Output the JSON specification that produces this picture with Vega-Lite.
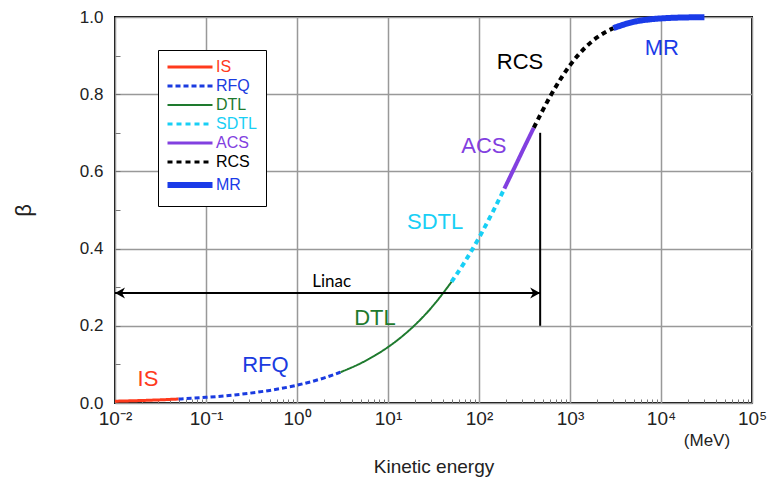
{
  "$schema": "https://vega.github.io/schema/vega-lite/v6.json",
  "width": 637,
  "height": 386,
  "autosize": "none",
  "padding": {"left": 115, "top": 17, "right": 17, "bottom": 81},
  "background": "white",
  "config": {
    "view": {"stroke": "black", "strokeWidth": 2},
    "font": "Liberation Sans"
  },
  "datasets": {
    "curve": [
      {"seg": "IS", "T": 0.01, "beta": 0.004617},
      {"seg": "IS", "T": 0.02, "beta": 0.006529},
      {"seg": "IS", "T": 0.03, "beta": 0.007997},
      {"seg": "IS", "T": 0.05, "beta": 0.010324},
      {"seg": "RFQ", "T": 0.05, "beta": 0.010324},
      {"seg": "RFQ", "T": 0.1, "beta": 0.0146},
      {"seg": "RFQ", "T": 0.2, "beta": 0.02065},
      {"seg": "RFQ", "T": 0.3, "beta": 0.02529},
      {"seg": "RFQ", "T": 0.5, "beta": 0.03263},
      {"seg": "RFQ", "T": 1, "beta": 0.04613},
      {"seg": "RFQ", "T": 2, "beta": 0.06519},
      {"seg": "RFQ", "T": 3, "beta": 0.07978},
      {"seg": "DTL", "T": 3, "beta": 0.07978},
      {"seg": "DTL", "T": 5, "beta": 0.10283},
      {"seg": "DTL", "T": 7, "beta": 0.12147},
      {"seg": "DTL", "T": 10, "beta": 0.14485},
      {"seg": "DTL", "T": 15, "beta": 0.1767},
      {"seg": "DTL", "T": 20, "beta": 0.20324},
      {"seg": "DTL", "T": 30, "beta": 0.247},
      {"seg": "DTL", "T": 50, "beta": 0.31405},
      {"seg": "SDTL", "T": 50, "beta": 0.31405},
      {"seg": "SDTL", "T": 70, "beta": 0.3661},
      {"seg": "SDTL", "T": 100, "beta": 0.4282},
      {"seg": "SDTL", "T": 140, "beta": 0.49277},
      {"seg": "SDTL", "T": 190, "beta": 0.55538},
      {"seg": "ACS", "T": 190, "beta": 0.55538},
      {"seg": "ACS", "T": 250, "beta": 0.61361},
      {"seg": "ACS", "T": 320, "beta": 0.6663},
      {"seg": "ACS", "T": 400, "beta": 0.71306},
      {"seg": "RCS", "T": 400, "beta": 0.71306},
      {"seg": "RCS", "T": 600, "beta": 0.79244},
      {"seg": "RCS", "T": 800, "beta": 0.84181},
      {"seg": "RCS", "T": 1000, "beta": 0.87502},
      {"seg": "RCS", "T": 1500, "beta": 0.923},
      {"seg": "RCS", "T": 2000, "beta": 0.94765},
      {"seg": "RCS", "T": 2500, "beta": 0.96204},
      {"seg": "RCS", "T": 3000, "beta": 0.97121},
      {"seg": "MR", "T": 3000, "beta": 0.97121},
      {"seg": "MR", "T": 5000, "beta": 0.98744},
      {"seg": "MR", "T": 8000, "beta": 0.99448},
      {"seg": "MR", "T": 12000, "beta": 0.99737},
      {"seg": "MR", "T": 20000, "beta": 0.999},
      {"seg": "MR", "T": 30000, "beta": 0.99954}
    ],
    "labels": [
      {"seg": "IS", "T": 0.023, "beta": 0.062},
      {"seg": "RFQ", "T": 0.45, "beta": 0.098},
      {"seg": "DTL", "T": 7.2, "beta": 0.22},
      {"seg": "SDTL", "T": 33, "beta": 0.469},
      {"seg": "ACS", "T": 113, "beta": 0.666},
      {"seg": "RCS", "T": 282, "beta": 0.883},
      {"seg": "MR", "T": 10200, "beta": 0.92}
    ]
  },
  "layer": [
    {
      "data": {"name": "curve"},
      "mark": {"type": "line", "interpolate": "monotone", "strokeCap": "butt"},
      "encoding": {
        "x": {
          "field": "T", "type": "quantitative",
          "scale": {"type": "log", "domain": [0.01, 100000], "nice": false},
          "axis": {
            "orient": "bottom",
            "values": [0.01, 0.1, 1, 10, 100, 1000, 10000, 100000],
            "labelExpr": "datum.value < 0.05 ? '10⁻²' : datum.value < 0.5 ? '10⁻¹' : datum.value < 5 ? '10⁰' : datum.value < 50 ? '10¹' : datum.value < 500 ? '10²' : datum.value < 5000 ? '10³' : datum.value < 50000 ? '10⁴' : '10⁵'",
            "labelFontSize": 19, "labelColor": "#222", "labelPadding": 6,
            "labelOverlap": false, "labelBound": false, "labelFlush": false,
            "ticks": false, "domain": false,
            "grid": true, "gridColor": "#999", "gridWidth": 1.5,
            "title": "Kinetic energy", "titleFontSize": 19, "titleFontWeight": "normal",
            "titleColor": "#222", "titlePadding": 29
          }
        },
        "y": {
          "field": "beta", "type": "quantitative",
          "scale": {"domain": [0, 1], "nice": false},
          "axis": {
            "orient": "left",
            "values": [0, 0.2, 0.4, 0.6, 0.8, 1.0],
            "format": ".1f",
            "labelFontSize": 17, "labelColor": "#222", "labelPadding": 12,
            "ticks": false, "domain": false,
            "grid": true, "gridColor": "#999", "gridWidth": 1.5,
            "title": "β", "titleFontSize": 22, "titleFontWeight": "normal",
            "titleColor": "#222", "titlePadding": 44
          }
        },
        "order": {"field": "T", "type": "quantitative"},
        "color": {
          "field": "seg", "type": "nominal",
          "scale": {
            "domain": ["IS", "RFQ", "DTL", "SDTL", "ACS", "RCS", "MR"],
            "range": ["#ff3a1c", "#1a3be0", "#1e7a2e", "#18cff5", "#8240e0", "#000000", "#1a3be8"]
          },
          "legend": {
            "title": null, "orient": "none", "legendX": 43, "legendY": 33,
            "symbolType": "M-1,0H5", "symbolSize": 225,
            "strokeColor": "black", "fillColor": "white", "padding": 9,
            "labelFont": "Liberation Sans", "labelFontSize": 16, "rowPadding": 3, "labelOffset": 33,
            "encode": {
              "labels": {"update": {"fill": {"scale": "color", "field": "value"}}},
              "symbols": {"update": {"strokeWidth": {"signal": "datum.value === 'MR' ? 6 : datum.value === 'DTL' ? 2 : 3"}}}
            }
          }
        },
        "strokeDash": {
          "field": "seg", "type": "nominal",
          "scale": {
            "domain": ["IS", "RFQ", "DTL", "SDTL", "ACS", "RCS", "MR"],
            "range": [[1, 0], [5, 3], [1, 0], [5, 4], [1, 0], [5, 4], [1, 0]]
          }
        },
        "strokeWidth": {
          "condition": [
            {"test": "datum.seg === 'MR'", "value": 6},
            {"test": "datum.seg === 'DTL'", "value": 2},
            {"test": "datum.seg === 'IS' || datum.seg === 'RFQ'", "value": 3}
          ],
          "value": 4
        }
      }
    },
    {
      "data": {"name": "labels"},
      "mark": {"type": "text", "font": "Liberation Sans", "fontSize": 22, "align": "center", "baseline": "middle"},
      "encoding": {
        "x": {
          "field": "T", "type": "quantitative",
          "axis": {
            "orient": "bottom", "offset": -4,
            "values": [0.02,0.03,0.04,0.05,0.06,0.07,0.08,0.09,0.2,0.3,0.4,0.5,0.6,0.7,0.8,0.9,2,3,4,5,6,7,8,9,20,30,40,50,60,70,80,90,200,300,400,500,600,700,800,900,2000,3000,4000,5000,6000,7000,8000,9000,20000,30000,40000,50000,60000,70000,80000,90000],
            "labels": false, "grid": false, "domain": false,
            "ticks": true, "tickSize": 4, "tickColor": "#777", "tickWidth": 1, "title": null
          }
        },
        "y": {
          "field": "beta", "type": "quantitative",
          "axis": {
            "orient": "left", "offset": -5,
            "values": [0.1, 0.2, 0.3, 0.4, 0.5, 0.6, 0.7, 0.8, 0.9],
            "labels": false, "grid": false, "domain": false,
            "ticks": true, "tickSize": 5, "tickColor": "#777", "tickWidth": 1, "title": null
          }
        },
        "text": {"field": "seg"},
        "color": {"field": "seg", "type": "nominal", "legend": null}
      }
    },
    {
      "data": {"values": [{"T": 0.01, "T2": 470, "beta": 0.285}]},
      "mark": {"type": "rule", "color": "black", "strokeWidth": 2},
      "encoding": {
        "x": {"field": "T", "type": "quantitative", "axis": null},
        "x2": {"field": "T2"},
        "y": {"field": "beta", "type": "quantitative", "axis": null}
      }
    },
    {
      "data": {"values": [{"T": 470, "beta": 0.2, "beta2": 0.7}]},
      "mark": {"type": "rule", "color": "black", "strokeWidth": 2},
      "encoding": {
        "x": {"field": "T", "type": "quantitative", "axis": null},
        "y": {"field": "beta", "type": "quantitative", "axis": null},
        "y2": {"field": "beta2"}
      }
    },
    {
      "data": {"values": [{"T": 470, "beta": 0.285}]},
      "mark": {"type": "point", "shape": "M0,0L-1,-0.55L-0.7,0L-1,0.55Z", "size": 400, "filled": true, "color": "black", "opacity": 1},
      "encoding": {
        "x": {"field": "T", "type": "quantitative", "axis": null},
        "y": {"field": "beta", "type": "quantitative", "axis": null}
      }
    },
    {
      "data": {"values": [{"T": 0.01, "beta": 0.285}]},
      "mark": {"type": "point", "shape": "M0,0L1,-0.55L0.7,0L1,0.55Z", "size": 400, "filled": true, "color": "black", "opacity": 1},
      "encoding": {
        "x": {"field": "T", "type": "quantitative", "axis": null},
        "y": {"field": "beta", "type": "quantitative", "axis": null}
      }
    },
    {
      "data": {"values": [{"text": "Linac", "T": 2.4, "beta": 0.313}]},
      "mark": {"type": "text", "font": "Lato", "fontSize": 17, "align": "center", "baseline": "middle", "color": "black"},
      "encoding": {
        "x": {"field": "T", "type": "quantitative", "axis": null},
        "y": {"field": "beta", "type": "quantitative", "axis": null},
        "text": {"field": "text"}
      }
    },
    {
      "data": {"values": [{"text": "(MeV)", "T": 32000, "beta": -0.098}]},
      "mark": {"type": "text", "font": "Liberation Sans", "fontSize": 17, "align": "center", "baseline": "middle", "color": "#222"},
      "encoding": {
        "x": {"field": "T", "type": "quantitative", "axis": null},
        "y": {"field": "beta", "type": "quantitative", "axis": null},
        "text": {"field": "text"}
      }
    }
  ],
  "resolve": {"axis": {"x": "independent", "y": "independent"}}
}
